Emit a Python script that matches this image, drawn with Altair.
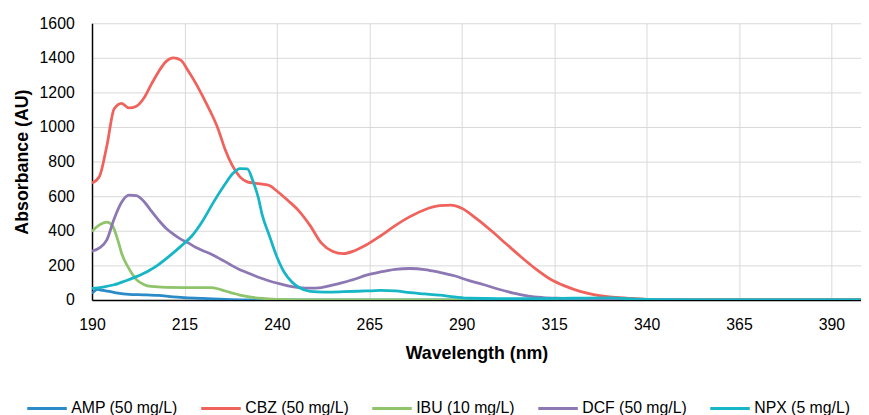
import altair as alt
import pandas as pd

series_names = ["AMP (50 mg/L)", "CBZ (50 mg/L)", "IBU (10 mg/L)", "DCF (50 mg/L)", "NPX (5 mg/L)"]
series_colors = ["#2a8bc8", "#f0625c", "#8fc46b", "#8d78b4", "#17b6c6"]

amp_wl = [190, 191.5, 193, 195, 197, 200, 204, 208, 212, 215, 220, 226, 232, 240, 300, 398]
amp_val = [38, 61, 55, 48, 40, 33, 30, 26, 18, 14, 9, 4, 1, 0, 0, 0]

cbz_wl = [190, 192, 194, 196, 198, 200, 202, 204, 206, 208, 210, 212, 214, 216, 218, 220, 222, 224,
          226, 228, 230, 232, 234, 236, 238, 240, 243, 246, 249, 252, 255, 258, 261, 264, 268, 272,
          276, 280, 284, 287, 290, 294, 298, 302, 306, 310, 314, 318, 322, 326, 330, 335, 340, 350,
          360, 398]
cbz_val = [676, 714, 890, 1105, 1137, 1110, 1120, 1166, 1245, 1320, 1378, 1400, 1387, 1325, 1255,
           1175, 1090, 995, 870, 775, 712, 683, 675, 670, 662, 630, 575, 514, 430, 330, 282, 268,
           285, 316, 370, 430, 482, 522, 545, 548, 530, 470, 400, 325, 250, 180, 120, 80, 50, 30,
           18, 10, 4, 1, 0, 0]

ibu_wl = [190, 192, 194, 195.5, 197, 198, 200, 202, 204, 206, 210, 215, 220, 222, 224, 226, 228, 230,
          233, 236, 240, 245, 260, 398]
ibu_val = [396, 434, 450, 430, 345, 270, 181, 118, 90, 78, 73, 72, 72, 71, 65, 52, 40, 28, 16, 9, 4,
           1, 0, 0]

dcf_wl = [190, 192, 194, 196, 198, 200, 202, 204, 206, 208, 210, 212, 214, 216, 218, 220, 222, 224,
          226, 228, 230, 232, 234, 236, 238, 240, 243, 246, 249, 252, 255, 258, 261, 264, 268, 272,
          276, 280, 284, 288, 292, 296, 300, 304, 308, 312, 316, 325, 335, 345, 398]
dcf_val = [282, 301, 347, 470, 565, 606, 604, 571, 515, 462, 415, 381, 352, 330, 305, 285, 268, 245,
           222, 197, 175, 158, 140, 124, 110, 98, 82, 72, 68, 72, 86, 102, 120, 142, 162, 177, 182,
           176, 160, 140, 112, 88, 62, 40, 22, 14, 10, 6, 3, 1, 0]

npx_wl = [190, 193, 196, 199, 202, 205, 208, 211, 214, 217, 220, 223, 226, 228, 230, 232, 233.5, 235,
          236, 238, 240, 242, 244, 246, 249, 253, 258, 264, 268, 272, 276, 280, 284, 288, 292, 300,
          310, 320, 330, 338, 345, 360, 398]
npx_val = [67, 75, 88, 110, 135, 165, 205, 255, 310, 370, 460, 570, 670, 730, 760, 758, 690, 590, 495,
           370, 250, 160, 105, 72, 50, 46, 48, 52, 55, 52, 42, 35, 28, 18, 10, 8, 8, 10, 12, 5, 2, 1, 1]

x_ticks = [190, 215, 240, 265, 290, 315, 340, 365, 390]
y_ticks = [0, 200, 400, 600, 800, 1000, 1200, 1400, 1600]

rows = []
for i, (name, wl, val) in enumerate(zip(series_names,
                                        [amp_wl, cbz_wl, ibu_wl, dcf_wl, npx_wl],
                                        [amp_val, cbz_val, ibu_val, dcf_val, npx_val])):
    for w, v in zip(wl, val):
        rows.append({"series": name, "wl": w, "val": v, "k": i})
df = pd.DataFrame(rows)

FONT = "Liberation Sans"

chart = alt.Chart(df).mark_line(strokeWidth=2.8, interpolate="monotone", clip=True).encode(
    x=alt.X("wl:Q", scale=alt.Scale(domain=[190, 398], nice=False, zero=False),
            axis=alt.Axis(values=x_ticks, title="Wavelength (nm)", labelPadding=17,
                          titlePadding=12, tickSize=0, labelFlush=False, format="d")),
    y=alt.Y("val:Q", scale=alt.Scale(domain=[0, 1600], nice=False),
            axis=alt.Axis(values=y_ticks, title="Absorbance (AU)", labelPadding=18,
                          titlePadding=8, tickSize=0, format="d")),
    color=alt.Color("series:N", scale=alt.Scale(domain=series_names, range=series_colors),
                    legend=alt.Legend(title=None, orient="none", legendX=-67, legendY=368,
                                      direction="horizontal", columns=5, symbolType="stroke",
                                      symbolSize=1600, symbolStrokeWidth=3, labelOffset=3,
                                      columnPadding=17, padding=0, labelFontSize=16,
                                      labelFont=FONT, labelColor="#000")),
    order=alt.Order("k:Q"),
).properties(
    width=778, height=280,
    padding={"left": 5, "top": 5, "right": 0, "bottom": 0},
).configure_view(stroke=None).configure_axis(
    labelFont=FONT, titleFont=FONT, labelFontSize=16, titleFontSize=18,
    labelColor="#000", titleColor="#000", titleFontWeight="bold",
    domainColor="#000", domainWidth=1.5, gridColor="#d9d9d9", gridWidth=1,
)

chart.save("out.html", embed_options={"renderer": "svg", "actions": False})
